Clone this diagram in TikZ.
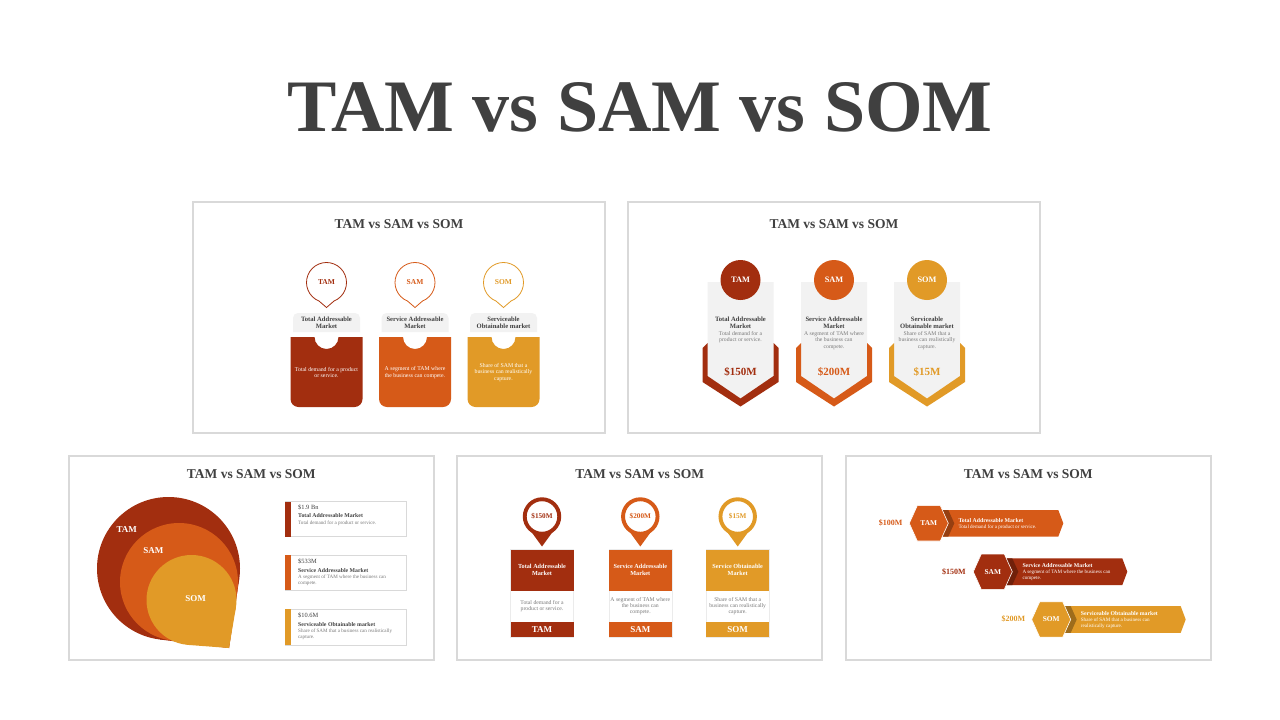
\documentclass[tikz,border=0pt]{standalone}
\usepackage{fontspec}
\setmainfont{Liberation Serif}
\usetikzlibrary{positioning,calc}
\definecolor{tamred}{HTML}{A22E0F}
\definecolor{samorange}{HTML}{D65A18}
\definecolor{somgold}{HTML}{E19A27}
\definecolor{titlegray}{HTML}{404040}
\definecolor{descgray}{HTML}{7A7A7A}
\definecolor{cardgray}{HTML}{F2F2F2}
\definecolor{slideline}{HTML}{D9D9D9}

\begin{document}
\begin{tikzpicture}[
    x=1pt,y=-1pt,
    slide/.style={fill=white,draw=slideline,line width=1.2pt},
    bigtitle/.style={font=\fontsize{74}{80}\selectfont\bfseries,text=titlegray,inner sep=0pt},
    slidetitle/.style={font=\fontsize{13.5}{15}\selectfont\bfseries,text=titlegray,inner sep=0pt},
    tabtext/.style={font=\fontsize{6.6}{7.4}\selectfont\bfseries,text=titlegray,align=center,inner sep=0pt},
    boxtext/.style={font=\fontsize{5.8}{6.5}\selectfont,text=white,align=center,inner sep=0pt},
    desctext/.style={font=\fontsize{5.7}{6.2}\selectfont,text=descgray,align=center,inner sep=0pt},
    balloontext/.style={font=\fontsize{7.5}{9}\selectfont\bfseries,inner sep=0pt},
    disc/.style={circle,minimum size=40pt,inner sep=0pt,text=white,
                 font=\fontsize{8.3}{10}\selectfont\bfseries},
    valtext/.style={font=\fontsize{11}{13}\selectfont\bfseries,inner sep=0pt},
    droptext/.style={font=\fontsize{9}{11}\selectfont\bfseries,text=white,inner sep=0pt},
    cardbox/.style={fill=white,draw=black!15,line width=0.8pt},
    cardval/.style={font=\fontsize{6.4}{7}\selectfont,text=titlegray,anchor=west,inner sep=0pt},
    cardtitle/.style={font=\fontsize{5.8}{6.4}\selectfont\bfseries,text=titlegray,anchor=west,inner sep=0pt},
    carddesc/.style={font=\fontsize{5.1}{6}\selectfont,text=descgray,align=left,anchor=west,inner sep=0pt},
    colframe/.style={fill=white,draw=black!8,line width=0.6pt},
    pin/.style={circle,fill=white,line width=3.9pt,minimum size=34.5pt,inner sep=0pt,
                font=\fontsize{7.2}{8}\selectfont\bfseries},
    headtext/.style={font=\fontsize{6.2}{7.1}\selectfont\bfseries,text=white,align=center,inner sep=0pt},
    foottext/.style={font=\fontsize{9}{10}\selectfont\bfseries,text=white,inner sep=0pt},
    hexagon/.style={draw=white,line width=0.6pt},
    hextext/.style={font=\fontsize{7.4}{9}\selectfont\bfseries,text=white,inner sep=0pt},
    rowval/.style={font=\fontsize{8}{9}\selectfont\bfseries,inner sep=0pt},
    rowtitle/.style={font=\fontsize{5.8}{6.4}\selectfont\bfseries,text=white,anchor=base west,inner sep=0pt},
    rowdesc/.style={font=\fontsize{5.1}{5.7}\selectfont,text=white,align=left,anchor=north west,inner sep=0pt}
  ]
    \useasboundingbox (0,0) rectangle (1280,720);
    \fill[white] (0,0) rectangle (1280,720);

    \node[bigtitle] (maintitle) at (640,107) {TAM vs SAM vs SOM};

    % five slide thumbnails
    \draw[slide] (193,202) rectangle (605,433);
    \draw[slide] (628,202) rectangle (1040,433);
    \draw[slide] (69,456) rectangle (434,660);
    \draw[slide] (457,456) rectangle (822,660);
    \draw[slide] (846,456) rectangle (1211,660);

    \node[slidetitle] (title1) at (399,224) {TAM vs SAM vs SOM};
    \node[slidetitle] (title2) at (834,224) {TAM vs SAM vs SOM};
    \node[slidetitle] (title3) at (251.3,474.3) {TAM vs SAM vs SOM};
    \node[slidetitle] (title4) at (639.7,474.3) {TAM vs SAM vs SOM};
    \node[slidetitle] (title5) at (1028.3,474.3) {TAM vs SAM vs SOM};

    % slide 1: balloons, tabs and notched boxes
    \draw[tamred,line width=0.8pt,fill=white] (326.5,307.5) -- ($(326.5,282.5)+(112:20)$)
      arc[start angle=112,end angle=428,radius=20] -- cycle;
    \draw[samorange,line width=0.8pt,fill=white] (415,307.5) -- ($(415,282.5)+(112:20)$)
      arc[start angle=112,end angle=428,radius=20] -- cycle;
    \draw[somgold,line width=0.8pt,fill=white] (503.5,307.5) -- ($(503.5,282.5)+(112:20)$)
      arc[start angle=112,end angle=428,radius=20] -- cycle;
    \node[balloontext,text=tamred] (tamball) at (326.5,282.5) {TAM};
    \node[balloontext,text=samorange] (samball) at (415,282.5) {SAM};
    \node[balloontext,text=somgold] (somball) at (503.5,282.5) {SOM};

    \fill[cardgray,rounded corners=5pt] (293,332) -- (293,313) -- (360,313) -- (360,332);
    \fill[cardgray,rounded corners=5pt] (381.5,332) -- (381.5,313) -- (448.5,313) -- (448.5,332);
    \fill[cardgray,rounded corners=5pt] (470,332) -- (470,313) -- (537,313) -- (537,332);
    \node[tabtext] (tamtab) at (326.5,322.5) {Total Addressable\\Market};
    \node[tabtext] (samtab) at (415,322.5) {Service Addressable\\Market};
    \node[tabtext] (somtab) at (503.5,322.5) {Serviceable\\Obtainable market};

    \fill[tamred] (290.5,337) -- ++(24,0) arc[start angle=180,end angle=0,radius=12] -- ++(24,0)
      -- ++(0,62) arc[start angle=0,end angle=90,radius=8] -- ++(-56,0)
      arc[start angle=90,end angle=180,radius=8] -- cycle;
    \fill[samorange] (379,337) -- ++(24,0) arc[start angle=180,end angle=0,radius=12] -- ++(24,0)
      -- ++(0,62) arc[start angle=0,end angle=90,radius=8] -- ++(-56,0)
      arc[start angle=90,end angle=180,radius=8] -- cycle;
    \fill[somgold] (467.5,337) -- ++(24,0) arc[start angle=180,end angle=0,radius=12] -- ++(24,0)
      -- ++(0,62) arc[start angle=0,end angle=90,radius=8] -- ++(-56,0)
      arc[start angle=90,end angle=180,radius=8] -- cycle;
    \node[boxtext] (tambox) at (326.5,372.5) {Total demand for a product\\or service.};
    \node[boxtext] (sambox) at (415,372.5) {A segment of TAM where\\the business can compete.};
    \node[boxtext] (sombox) at (503.5,372.5) {Share of SAM that a\\business can realistically\\capture.};

    % slide 2: cards with chevron bottoms
    \fill[cardgray] (707.5,282) -- ++(66,0) -- ++(0,94) -- ++(-33,22.5) -- ++(-33,-22.5) -- cycle;
    \fill[cardgray] (801,282) -- ++(66,0) -- ++(0,94) -- ++(-33,22.5) -- ++(-33,-22.5) -- cycle;
    \fill[cardgray] (894,282) -- ++(66,0) -- ++(0,94) -- ++(-33,22.5) -- ++(-33,-22.5) -- cycle;
    \fill[tamred] (702.5,348) -- ++(5,-5) -- ++(0,33) -- ++(33,22.5) -- ++(33,-22.5) -- ++(0,-33)
      -- ++(5,5) -- ++(0,34) -- ++(-38,24.5) -- ++(-38,-24.5) -- cycle;
    \fill[samorange] (796,348) -- ++(5,-5) -- ++(0,33) -- ++(33,22.5) -- ++(33,-22.5) -- ++(0,-33)
      -- ++(5,5) -- ++(0,34) -- ++(-38,24.5) -- ++(-38,-24.5) -- cycle;
    \fill[somgold] (889,348) -- ++(5,-5) -- ++(0,33) -- ++(33,22.5) -- ++(33,-22.5) -- ++(0,-33)
      -- ++(5,5) -- ++(0,34) -- ++(-38,24.5) -- ++(-38,-24.5) -- cycle;
    \node[disc,fill=tamred] (tamdisc) at (740.5,280) {TAM};
    \node[disc,fill=samorange] (samdisc) at (834,280) {SAM};
    \node[disc,fill=somgold] (somdisc) at (927,280) {SOM};
    \node[tabtext] (tamhead) at (740.5,322.5) {Total Addressable\\Market};
    \node[tabtext] (samhead) at (834,322.5) {Service Addressable\\Market};
    \node[tabtext] (somhead) at (927,322.5) {Serviceable\\Obtainable market};
    \node[desctext,anchor=north] (tamdesc) at (740.5,331.5) {Total demand for a\\product or service.};
    \node[desctext,anchor=north] (samdesc) at (834,331.5) {A segment of TAM where\\the business can\\compete.};
    \node[desctext,anchor=north] (somdesc) at (927,331.5) {Share of SAM that a\\business can realistically\\capture.};
    \node[valtext,text=tamred] (tamval) at (740.5,372.3) {\$150M};
    \node[valtext,text=samorange] (samval) at (834,372.3) {\$200M};
    \node[valtext,text=somgold] (somval) at (927,372.3) {\$15M};

    % slide 3: nested drops and value cards
    \fill[tamred] (168.5,568.5) circle[radius=71.5];
    \fill[tamred] (229,648) -- (239.2,579) -- (168.5,568.5) -- (159.8,639.5) -- cycle;
    \fill[samorange] (179,582) circle[radius=59];
    \fill[samorange] (229,648) -- (237.4,590.5) -- (179,582) -- (171.4,640.5) -- cycle;
    \fill[somgold] (191.5,600) circle[radius=45];
    \fill[somgold] (229,648) -- (235.9,607.5) -- (191.5,600) -- (188,644.9) -- cycle;
    \node[droptext] (tamdrop) at (126.7,530) {TAM};
    \node[droptext] (samdrop) at (153.3,551) {SAM};
    \node[droptext] (somdrop) at (195.7,598.3) {SOM};

    \draw[cardbox] (285,501.7) rectangle (406,536.7);
    \draw[cardbox] (285,555) rectangle (406,590);
    \draw[cardbox] (285,609) rectangle (406,645);
    \fill[tamred] (285,501.7) rectangle (290.5,536.7);
    \fill[samorange] (285,555) rectangle (290.5,590);
    \fill[somgold] (285,609) rectangle (290.5,645);
    \node[cardval] (tamcardval) at (298,507.7) {\$1.9 Bn};
    \node[cardtitle] (tamcardtitle) at (298,516) {Total Addressable Market};
    \node[carddesc] (tamcarddesc) at (298,523) {Total demand for a product or service.};
    \node[cardval] (samcardval) at (298,561.7) {\$533M};
    \node[cardtitle] (samcardtitle) at (298,570.3) {Service Addressable Market};
    \node[carddesc,anchor=north west] (samcarddesc) at (298,575) {A segment of TAM where the business can\\compete.};
    \node[cardval] (somcardval) at (298,615.7) {\$10.6M};
    \node[cardtitle] (somcardtitle) at (298,624.3) {Serviceable Obtainable market};
    \node[carddesc,anchor=north west] (somcarddesc) at (298,628.7) {Share of SAM that a business can realistically\\capture.};

    % slide 4: pins over coloured columns
    \draw[colframe] (510.5,549.5) rectangle (573.5,637);
    \draw[colframe] (608.8,549.5) rectangle (671.8,637);
    \draw[colframe] (706.2,549.5) rectangle (769.2,637);
    \fill[tamred] (510.5,549.5) rectangle (573.5,591);
    \fill[samorange] (608.8,549.5) rectangle (671.8,591);
    \fill[somgold] (706.2,549.5) rectangle (769.2,591);
    \fill[tamred] (510.5,621.5) rectangle (573.5,637);
    \fill[samorange] (608.8,621.5) rectangle (671.8,637);
    \fill[somgold] (706.2,621.5) rectangle (769.2,637);
    \fill[tamred] (530,530) -- (554,530) -- (542,546.5) -- cycle;
    \fill[samorange] (628.3,530) -- (652.3,530) -- (640.3,546.5) -- cycle;
    \fill[somgold] (725.7,530) -- (749.7,530) -- (737.7,546.5) -- cycle;
    \node[pin,draw=tamred,text=tamred] (tampin) at (542,516.5) {\$150M};
    \node[pin,draw=samorange,text=samorange] (sampin) at (640.3,516.5) {\$200M};
    \node[pin,draw=somgold,text=somgold] (sompin) at (737.7,516.5) {\$15M};
    \node[headtext] (tamcolhead) at (542,570) {Total Addressable\\Market};
    \node[headtext] (samcolhead) at (640.3,570) {Service Addressable\\Market};
    \node[headtext] (somcolhead) at (737.7,570) {Service Obtainable\\Market};
    \node[desctext] (tamcoldesc) at (542,606.3) {Total demand for a\\product or service.};
    \node[desctext] (samcoldesc) at (640.3,606.3) {A segment of TAM where\\the business can\\compete.};
    \node[desctext] (somcoldesc) at (737.7,606.3) {Share of SAM that a\\business can realistically\\capture.};
    \node[foottext] (tamfoot) at (542,629.2) {TAM};
    \node[foottext] (samfoot) at (640.3,629.2) {SAM};
    \node[foottext] (somfoot) at (737.7,629.2) {SOM};

    % slide 5: hexagon ribbons
    \fill[samorange] (939.3,510) -- ++(119,0) -- ++(5,13.3) -- ++(-5,13.3) -- ++(-119,0) -- cycle;
    \fill[samorange!70!black] (939.3,510) -- ++(9,0) -- ++(6,13.3) -- ++(-6,13.3) -- ++(-9,0) -- cycle;
    \filldraw[hexagon,fill=samorange] (909.3,523.3) -- ++(8,-17.7) -- ++(23,0) -- ++(8,17.7)
      -- ++(-8,17.7) -- ++(-23,0) -- cycle;
    \fill[tamred] (1003.3,558.4) -- ++(119,0) -- ++(5,13.3) -- ++(-5,13.3) -- ++(-119,0) -- cycle;
    \fill[tamred!70!black] (1003.3,558.4) -- ++(9,0) -- ++(6,13.3) -- ++(-6,13.3) -- ++(-9,0) -- cycle;
    \filldraw[hexagon,fill=tamred] (973.3,571.7) -- ++(8,-17.7) -- ++(23,0) -- ++(8,17.7)
      -- ++(-8,17.7) -- ++(-23,0) -- cycle;
    \fill[somgold] (1061.7,606.2) -- ++(119,0) -- ++(5,13.3) -- ++(-5,13.3) -- ++(-119,0) -- cycle;
    \fill[somgold!70!black] (1061.7,606.2) -- ++(9,0) -- ++(6,13.3) -- ++(-6,13.3) -- ++(-9,0) -- cycle;
    \filldraw[hexagon,fill=somgold] (1031.7,619.5) -- ++(8,-17.7) -- ++(23,0) -- ++(8,17.7)
      -- ++(-8,17.7) -- ++(-23,0) -- cycle;

    \node[hextext] (tamhex) at (928.8,523.3) {TAM};
    \node[hextext] (samhex) at (992.8,571.7) {SAM};
    \node[hextext] (somhex) at (1051.2,619.5) {SOM};
    \node[rowval,text=samorange] (tamrowval) at (890.7,523.3) {\$100M};
    \node[rowval,text=tamred] (samrowval) at (954,571.7) {\$150M};
    \node[rowval,text=somgold] (somrowval) at (1013.3,619.3) {\$200M};
    \node[rowtitle] (tamrowtitle) at (958.3,522) {Total Addressable Market};
    \node[rowdesc] (tamrowdesc) at (958.3,524.3) {Total demand for a product or service.};
    \node[rowtitle] (samrowtitle) at (1022.3,567.5) {Service Addressable Market};
    \node[rowdesc] (samrowdesc) at (1022.3,570.2) {A segment of TAM where the business can\\compete.};
    \node[rowtitle] (somrowtitle) at (1080.7,615.3) {Serviceable Obtainable market};
    \node[rowdesc] (somrowdesc) at (1080.7,618.1) {Share of SAM that a business can\\realistically capture.};
  \end{tikzpicture}
\end{document}
